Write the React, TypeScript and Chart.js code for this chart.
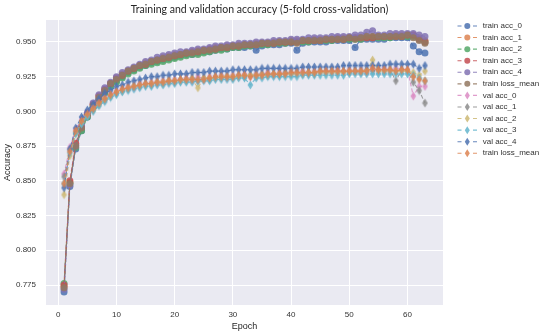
import React, { useEffect, useRef } from 'react';
import { Chart, registerables } from 'chart.js';
Chart.register(...registerables);

const EPOCHS = Array.from({ length: 63 }, (_, i) => i + 1);
const X_TICKS = [0, 10, 20, 30, 40, 50, 60];
const Y_TICKS = [0.775, 0.8, 0.825, 0.85, 0.875, 0.9, 0.925, 0.95];
const TITLE = 'Training and validation accuracy (5-fold cross-validation)';

const LABELS = ['train acc_0', 'train acc_1', 'train acc_2', 'train acc_3', 'train acc_4', 'train loss_mean',
  'val acc_0', 'val acc_1', 'val acc_2', 'val acc_3', 'val acc_4', 'train loss_mean'];

const trainAcc0 = [
  0.770, 0.846, 0.873, 0.886, 0.896, 0.903, 0.909, 0.914, 0.919, 0.922,
  0.925, 0.928, 0.930, 0.932, 0.933, 0.935, 0.936, 0.937, 0.938, 0.939,
  0.940, 0.941, 0.941, 0.942, 0.943, 0.943, 0.944, 0.945, 0.945, 0.946,
  0.946, 0.946, 0.947, 0.944, 0.947, 0.948, 0.948, 0.948, 0.949, 0.949,
  0.944, 0.949, 0.950, 0.950, 0.950, 0.950, 0.951, 0.951, 0.951, 0.951,
  0.946, 0.952, 0.952, 0.952, 0.952, 0.952, 0.953, 0.953, 0.953, 0.953,
  0.947, 0.943, 0.942];
const trainAcc1 = [
  0.774, 0.849, 0.876, 0.888, 0.898, 0.905, 0.911, 0.916, 0.920, 0.924,
  0.927, 0.929, 0.931, 0.933, 0.935, 0.936, 0.937, 0.939, 0.940, 0.941,
  0.941, 0.942, 0.943, 0.944, 0.944, 0.945, 0.946, 0.946, 0.947, 0.947,
  0.948, 0.948, 0.948, 0.949, 0.949, 0.949, 0.950, 0.950, 0.950, 0.951,
  0.951, 0.951, 0.951, 0.952, 0.952, 0.952, 0.952, 0.953, 0.953, 0.953,
  0.953, 0.953, 0.954, 0.954, 0.954, 0.954, 0.954, 0.955, 0.955, 0.955,
  0.955, 0.953, 0.951];
const trainAcc2 = [
  0.776, 0.848, 0.874, 0.886, 0.896, 0.903, 0.908, 0.913, 0.918, 0.921,
  0.924, 0.927, 0.929, 0.931, 0.933, 0.934, 0.935, 0.936, 0.937, 0.938,
  0.939, 0.940, 0.941, 0.941, 0.942, 0.943, 0.944, 0.944, 0.945, 0.946,
  0.946, 0.947, 0.947, 0.948, 0.948, 0.948, 0.949, 0.949, 0.949, 0.950,
  0.950, 0.950, 0.950, 0.951, 0.951, 0.951, 0.951, 0.952, 0.952, 0.952,
  0.952, 0.952, 0.953, 0.953, 0.953, 0.953, 0.953, 0.954, 0.954, 0.954,
  0.954, 0.952, 0.950];
const trainAcc3 = [
  0.775, 0.850, 0.877, 0.889, 0.898, 0.905, 0.911, 0.916, 0.920, 0.924,
  0.926, 0.929, 0.931, 0.933, 0.934, 0.936, 0.937, 0.938, 0.939, 0.940,
  0.941, 0.942, 0.943, 0.943, 0.944, 0.945, 0.945, 0.946, 0.946, 0.947,
  0.947, 0.948, 0.948, 0.948, 0.949, 0.949, 0.949, 0.950, 0.950, 0.950,
  0.950, 0.951, 0.951, 0.951, 0.951, 0.952, 0.952, 0.952, 0.952, 0.953,
  0.953, 0.953, 0.953, 0.953, 0.954, 0.954, 0.954, 0.954, 0.954, 0.955,
  0.955, 0.952, 0.950];
const trainAcc4 = [
  0.772, 0.847, 0.875, 0.889, 0.899, 0.906, 0.912, 0.917, 0.921, 0.925,
  0.928, 0.930, 0.932, 0.934, 0.936, 0.937, 0.939, 0.940, 0.941, 0.942,
  0.943, 0.943, 0.944, 0.945, 0.945, 0.946, 0.947, 0.947, 0.948, 0.948,
  0.949, 0.949, 0.949, 0.950, 0.950, 0.950, 0.951, 0.951, 0.951, 0.952,
  0.952, 0.952, 0.953, 0.953, 0.953, 0.953, 0.954, 0.954, 0.954, 0.954,
  0.955, 0.955, 0.957, 0.958, 0.955, 0.955, 0.956, 0.956, 0.956, 0.956,
  0.956, 0.955, 0.954];
const trainMean = [
  0.773, 0.848, 0.875, 0.888, 0.897, 0.904, 0.910, 0.915, 0.920, 0.923,
  0.926, 0.929, 0.931, 0.933, 0.934, 0.936, 0.937, 0.938, 0.939, 0.940,
  0.941, 0.942, 0.942, 0.943, 0.944, 0.944, 0.945, 0.946, 0.946, 0.947,
  0.947, 0.948, 0.948, 0.948, 0.949, 0.949, 0.949, 0.950, 0.950, 0.950,
  0.949, 0.951, 0.951, 0.951, 0.951, 0.952, 0.952, 0.952, 0.952, 0.953,
  0.952, 0.953, 0.954, 0.954, 0.954, 0.954, 0.954, 0.954, 0.954, 0.955,
  0.953, 0.951, 0.949];

const valAcc0 = [
  0.855, 0.874, 0.887, 0.894, 0.899, 0.903, 0.906, 0.910, 0.912, 0.915,
  0.916, 0.918, 0.917, 0.920, 0.919, 0.921, 0.920, 0.922, 0.921, 0.923,
  0.922, 0.924, 0.922, 0.925, 0.923, 0.925, 0.924, 0.926, 0.924, 0.926,
  0.925, 0.927, 0.925, 0.927, 0.926, 0.928, 0.926, 0.928, 0.927, 0.928,
  0.927, 0.929, 0.927, 0.929, 0.928, 0.929, 0.928, 0.930, 0.928, 0.930,
  0.929, 0.930, 0.928, 0.931, 0.929, 0.931, 0.929, 0.931, 0.930, 0.930,
  0.911, 0.918, 0.918];
const valAcc1 = [
  0.853, 0.872, 0.885, 0.892, 0.897, 0.901, 0.905, 0.908, 0.911, 0.913,
  0.915, 0.916, 0.918, 0.918, 0.920, 0.919, 0.921, 0.920, 0.922, 0.921,
  0.923, 0.922, 0.924, 0.922, 0.924, 0.923, 0.925, 0.924, 0.925, 0.924,
  0.926, 0.925, 0.926, 0.925, 0.927, 0.926, 0.927, 0.926, 0.928, 0.927,
  0.928, 0.927, 0.928, 0.927, 0.929, 0.928, 0.929, 0.928, 0.929, 0.928,
  0.929, 0.928, 0.930, 0.929, 0.930, 0.929, 0.930, 0.922, 0.930, 0.929,
  0.921, 0.915, 0.906];
const valAcc2 = [
  0.840, 0.868, 0.884, 0.892, 0.897, 0.901, 0.905, 0.909, 0.911, 0.914,
  0.915, 0.917, 0.918, 0.919, 0.919, 0.920, 0.921, 0.921, 0.922, 0.922,
  0.922, 0.923, 0.923, 0.917, 0.924, 0.924, 0.924, 0.925, 0.925, 0.925,
  0.925, 0.926, 0.926, 0.926, 0.926, 0.926, 0.927, 0.927, 0.927, 0.927,
  0.927, 0.927, 0.928, 0.928, 0.928, 0.928, 0.928, 0.928, 0.928, 0.929,
  0.929, 0.929, 0.929, 0.937, 0.929, 0.929, 0.929, 0.929, 0.929, 0.929,
  0.928, 0.926, 0.929];
const valAcc3 = [
  0.848, 0.870, 0.884, 0.891, 0.896, 0.900, 0.904, 0.907, 0.910, 0.912,
  0.914, 0.915, 0.916, 0.917, 0.918, 0.918, 0.919, 0.919, 0.920, 0.920,
  0.921, 0.921, 0.921, 0.922, 0.922, 0.922, 0.923, 0.923, 0.923, 0.923,
  0.924, 0.924, 0.919, 0.924, 0.924, 0.925, 0.925, 0.925, 0.925, 0.925,
  0.925, 0.926, 0.926, 0.926, 0.926, 0.926, 0.926, 0.926, 0.926, 0.927,
  0.927, 0.927, 0.927, 0.927, 0.927, 0.927, 0.927, 0.927, 0.927, 0.927,
  0.926, 0.924, 0.922];
const valAcc4 = [
  0.845, 0.873, 0.888, 0.896, 0.901, 0.905, 0.909, 0.913, 0.915, 0.918,
  0.919, 0.921, 0.922, 0.923, 0.924, 0.925, 0.925, 0.926, 0.926, 0.927,
  0.927, 0.927, 0.928, 0.928, 0.928, 0.929, 0.929, 0.929, 0.929, 0.930,
  0.930, 0.930, 0.930, 0.930, 0.931, 0.931, 0.931, 0.931, 0.931, 0.931,
  0.931, 0.932, 0.932, 0.932, 0.932, 0.932, 0.932, 0.932, 0.933, 0.933,
  0.933, 0.933, 0.933, 0.933, 0.933, 0.933, 0.934, 0.934, 0.934, 0.934,
  0.934, 0.931, 0.933];
const valMean = [
  0.848, 0.871, 0.886, 0.893, 0.898, 0.902, 0.906, 0.909, 0.912, 0.914,
  0.916, 0.917, 0.918, 0.919, 0.920, 0.920, 0.921, 0.921, 0.922, 0.922,
  0.923, 0.923, 0.923, 0.923, 0.923, 0.924, 0.925, 0.925, 0.925, 0.925,
  0.926, 0.926, 0.925, 0.926, 0.926, 0.927, 0.927, 0.927, 0.927, 0.928,
  0.928, 0.928, 0.928, 0.928, 0.929, 0.929, 0.929, 0.929, 0.929, 0.929,
  0.929, 0.929, 0.929, 0.931, 0.930, 0.930, 0.930, 0.929, 0.930, 0.930,
  0.925, 0.923, 0.922];

const SERIES = [trainAcc0, trainAcc1, trainAcc2, trainAcc3, trainAcc4, trainMean,
  valAcc0, valAcc1, valAcc2, valAcc3, valAcc4, valMean];
const COLORS = ['#4C72B0', '#DD8452', '#55A868', '#C44E52', '#8172B3', '#937860',
  '#DA8BC3', '#8C8C8C', '#CCB974', '#64B5CD', '#4C72B0', '#DD8452'];

function hexA(hex: string, a: number) {
  const n = parseInt(hex.slice(1), 16);
  return `rgba(${(n >> 16) & 255},${(n >> 8) & 255},${n & 255},${a})`;
}

function diamondCanvas(color: string) {
  const c = document.createElement('canvas');
  c.width = 7; c.height = 10;
  const g = c.getContext('2d')!;
  g.fillStyle = color;
  g.beginPath();
  g.moveTo(3.5, 0.4); g.lineTo(6.3, 5); g.lineTo(3.5, 9.6); g.lineTo(0.7, 5);
  g.closePath(); g.fill();
  return c;
}

const bgPlugin = {
  id: 'bg',
  beforeDraw(chart: any) {
    const { ctx, chartArea: a } = chart;
    ctx.save();
    ctx.fillStyle = '#ffffff';
    ctx.fillRect(0, 0, chart.width, chart.height);
    ctx.fillStyle = '#EAEAF2';
    ctx.fillRect(a.left, a.top, a.right - a.left, a.bottom - a.top);
    ctx.fillStyle = '#262626';
    ctx.font = '10.5px Lato';
    ctx.textAlign = 'center';
    ctx.textBaseline = 'middle';
    ctx.fillText(TITLE, 259.5, 10);
    ctx.restore();
  },
};

const legendPlugin = {
  id: 'customLegend',
  afterDraw(chart: any) {
    const ctx = chart.ctx;
    ctx.save();
    chart.data.datasets.forEach((ds: any, i: number) => {
      const y = 26 + i * 11.57;
      const col = COLORS[i];
      ctx.strokeStyle = hexA(col, 0.85);
      ctx.lineWidth = 1.1;
      ctx.beginPath();
      ctx.moveTo(457.5, y); ctx.lineTo(461.5, y);
      ctx.moveTo(473, y); ctx.lineTo(477, y);
      ctx.stroke();
      ctx.fillStyle = hexA(col, 0.85);
      if (i < 6) {
        ctx.beginPath(); ctx.arc(467.3, y, 3, 0, Math.PI * 2); ctx.fill();
      } else {
        ctx.beginPath();
        ctx.moveTo(467.3, y - 4); ctx.lineTo(469.8, y); ctx.lineTo(467.3, y + 4); ctx.lineTo(464.8, y);
        ctx.closePath(); ctx.fill();
      }
      ctx.fillStyle = '#333333';
      ctx.font = '8px "Liberation Sans"';
      ctx.textBaseline = 'middle';
      ctx.textAlign = 'left';
      ctx.fillText(ds.label, 482.7, y);
    });
    ctx.restore();
  },
};

export default function App() {
  const ref = useRef<HTMLCanvasElement>(null);
  useEffect(() => {
    document.body.style.margin = '0';
    const datasets = SERIES.map((vals, i) => {
      const isVal = i >= 6;
      const col = hexA(COLORS[i], 0.85);
      return {
        label: LABELS[i],
        data: vals.map((v, k) => ({ x: EPOCHS[k], y: v })),
        borderColor: col,
        backgroundColor: col,
        borderWidth: 1.1,
        borderDash: [4, 2],
        pointStyle: isVal ? diamondCanvas(col) : 'circle',
        pointRadius: isVal ? 4 : 3.5,
        pointBorderWidth: 0,
        pointBackgroundColor: col,
        fill: false,
        tension: 0,
        order: 12 - i,
      };
    });
    const chart = new Chart(ref.current!, {
      type: 'line',
      data: { datasets } as any,
      options: {
        animation: false,
        responsive: false,
        layout: { padding: { left: 0, right: 107, top: 20, bottom: 0 } },
        plugins: {
          legend: { display: false },
          tooltip: { enabled: false },
          title: { display: false },
        },
        scales: {
          x: {
            type: 'linear',
            min: -2.1,
            max: 66.1,
            afterBuildTicks: (axis: any) => { axis.ticks = X_TICKS.map((v) => ({ value: v })); },
            afterFit: (axis: any) => { axis.height = 29; },
            grid: { color: '#ffffff', lineWidth: 1, drawTicks: false },
            border: { display: false },
            ticks: {
              padding: 5,
              color: '#333333',
              font: { family: 'Liberation Sans', size: 8 },
              callback: (v: any) => String(v),
              maxRotation: 0,
            },
            title: {
              display: true,
              text: 'Epoch',
              color: '#262626',
              font: { family: 'Liberation Sans', size: 9 },
              padding: { top: 0, bottom: 2 },
            },
          },
          y: {
            type: 'linear',
            min: 0.7606,
            max: 0.9658,
            afterBuildTicks: (axis: any) => { axis.ticks = Y_TICKS.map((v) => ({ value: v })); },
            afterFit: (axis: any) => { axis.width = 46; },
            grid: { color: '#ffffff', lineWidth: 1, drawTicks: false },
            border: { display: false },
            ticks: {
              padding: 10,
              color: '#333333',
              font: { family: 'Liberation Sans', size: 8 },
              callback: (v: any) => Number(v).toFixed(3),
            },
            title: {
              display: true,
              text: 'Accuracy',
              color: '#262626',
              font: { family: 'Liberation Sans', size: 9 },
              padding: { top: 2, bottom: 0 },
            },
          },
        },
      },
      plugins: [bgPlugin, legendPlugin],
    });
    return () => chart.destroy();
  }, []);
  return (
    <div style={{ width: 550, height: 334 }}>
      <canvas ref={ref} width={550} height={334} style={{ display: 'block', width: 550, height: 334 }} />
    </div>
  );
}
